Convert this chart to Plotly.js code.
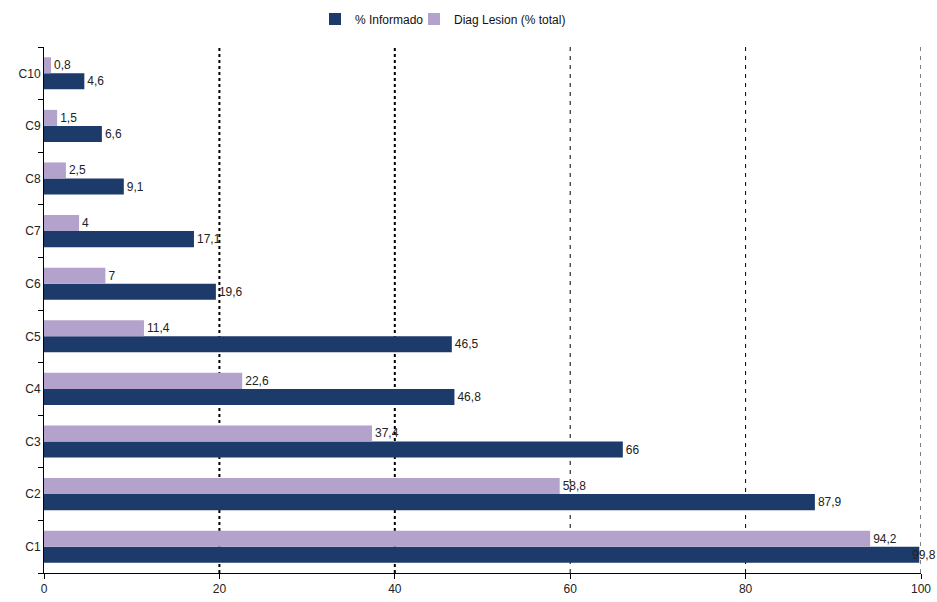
<!DOCTYPE html>
<html>
<head>
<meta charset="utf-8">
<script src="https://cdn.plot.ly/plotly-3.0.1.min.js"></script>
<style>body{margin:0;padding:0;background:#fff;}#chart{width:937px;height:602px;}</style>
</head>
<body>
<div id="chart"></div>
<script>
const categories = ["C1","C2","C3","C4","C5","C6","C7","C8","C9","C10"];
const informado = [99.8, 87.9, 66, 46.8, 46.5, 19.6, 17.1, 9.1, 6.6, 4.6];
const diagLesion = [94.2, 58.8, 37.4, 22.6, 11.4, 7, 4, 2.5, 1.5, 0.8];
const seriesNames = ["% Informado", "Diag Lesion (% total)"];
const xTicks = [0, 20, 40, 60, 80, 100];

const fmt = v => String(v).replace('.', ',');

const labelFont = {family: "Liberation Sans, Arial, sans-serif", size: 12, color: "#222"};

// the label of a bar that reaches the axis end is drawn as an annotation so it stays inside the page
const infoText = informado.map((v, i) => v >= 99 ? "" : fmt(v));
const edgeAnnotations = informado.map((v, i) => ({v, i})).filter(o => o.v >= 99).map(o => ({
  x: o.v, y: categories[o.i], xref: "x", yref: "y",
  text: fmt(o.v), showarrow: false, xanchor: "right", yanchor: "middle",
  xshift: 19, yshift: -8, font: labelFont
}));

const traces = [
  {
    type: "bar", orientation: "h", name: seriesNames[0], legend: "legend",
    y: categories, x: informado, text: infoText,
    textposition: "outside", cliponaxis: false, textfont: labelFont,
    marker: {color: "#1C3A6A"}, hoverinfo: "x+y"
  },
  {
    type: "bar", orientation: "h", name: seriesNames[1], legend: "legend2",
    y: categories, x: diagLesion, text: diagLesion.map(fmt),
    textposition: "outside", cliponaxis: false, textfont: labelFont,
    marker: {color: "#B3A3CC"}, hoverinfo: "x+y"
  }
];

const gridShapes = xTicks.filter(v => v > 0).map(v => ({
  type: "line", xref: "x", yref: "paper", x0: v, x1: v, y0: 0, y1: 1,
  line: v <= 40 ? {color: "#000", width: 2, dash: "dot"} : {color: "#000", width: 1, dash: "4px,5px"},
  layer: "below"
}));

const legendBase = {orientation: "h", xanchor: "left", y: 1 - 19/602, yanchor: "middle", yref: "container",
  xref: "container", font: {size: 12, color: "#111"}, itemwidth: 30, borderwidth: 0, bgcolor: "rgba(0,0,0,0)"};

const layout = {
  width: 937, height: 602,
  margin: {l: 44, r: 16, t: 47, b: 29},
  paper_bgcolor: "#fff", plot_bgcolor: "#fff",
  font: {family: "Liberation Sans, Arial, sans-serif", size: 12, color: "#222"},
  barmode: "group", bargap: 0.39, bargroupgap: 0,
  showlegend: true,
  legend: Object.assign({}, legendBase, {x: 315/937}),
  legend2: Object.assign({}, legendBase, {x: 414/937}),
  xaxis: {
    range: [0, 100], tickvals: xTicks, ticktext: xTicks.map(String),
    showgrid: false, zeroline: false, showline: true, linecolor: "#000", linewidth: 1,
    ticks: "outside", ticklen: 5, tickcolor: "#000", tickfont: {size: 12, color: "#222"},
    fixedrange: true
  },
  yaxis: {
    type: "category", categoryorder: "array", categoryarray: categories,
    showgrid: false, zeroline: false, showline: true, linecolor: "#000", linewidth: 1,
    ticks: "outside", ticklen: 5, tickcolor: "#000", tickson: "boundaries",
    tickfont: {size: 12, color: "#222"}, fixedrange: true
  },
  shapes: gridShapes,
  annotations: edgeAnnotations
};

Plotly.newPlot("chart", traces, layout, {displayModeBar: false, staticPlot: true});
</script>
</body>
</html>
